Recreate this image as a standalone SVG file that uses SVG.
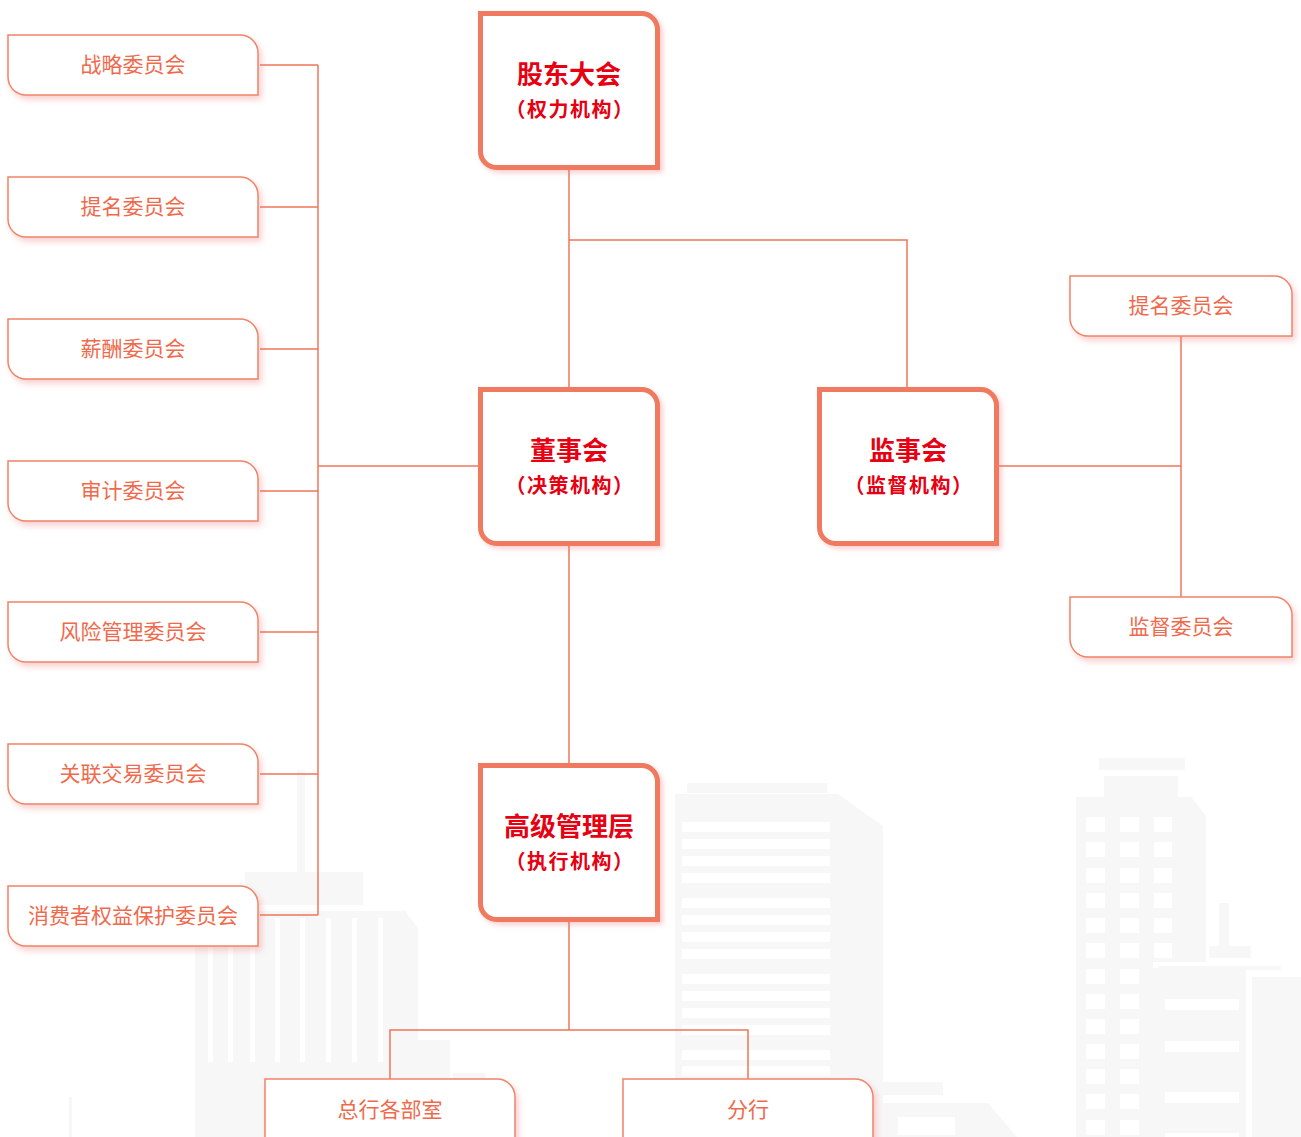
<svg xmlns="http://www.w3.org/2000/svg" width="1301" height="1137" viewBox="0 0 1301 1137">
  <style>
    .bg { fill: #f7f7f7; }
    .win { fill: #ffffff; }
    .sub { fill: #ffffff; stroke: #f08468; stroke-width: 1.5; filter: url(#softShadow); }
    .main { fill: #ffffff; stroke: #ef7a60; stroke-width: 5; filter: url(#mainShadow); }
    .lbl { font-family: "Noto Sans CJK SC", "Noto Sans", sans-serif; font-size: 21px; fill: #ef6a4c; text-anchor: middle; }
    .ttl { font-family: "Noto Sans CJK SC", "Noto Sans", sans-serif; font-size: 26px; font-weight: bold; fill: #e60012; text-anchor: middle; }
    .ttl2 { font-family: "Noto Sans CJK SC", "Noto Sans", sans-serif; font-size: 20px; font-weight: bold; fill: #e60012; text-anchor: middle; letter-spacing: 1.5px; }
    .link { fill: none; stroke: #f0765a; stroke-width: 1.5; }
  </style>
  <defs>
    <filter id="softShadow" x="-10%" y="-20%" width="130%" height="160%">
      <feDropShadow dx="3" dy="4" stdDeviation="3" flood-color="#f07a7a" flood-opacity="0.35"/>
    </filter>
    <filter id="mainShadow" x="-10%" y="-10%" width="130%" height="130%">
      <feDropShadow dx="3" dy="3" stdDeviation="2.5" flood-color="#f07a7a" flood-opacity="0.35"/>
    </filter>
  </defs>

  <rect width="1301" height="1137" fill="#ffffff"/>

  <!-- city skyline backdrop -->
  <g id="skyline">
    <!-- left tower -->
    <rect class="bg" x="297" y="770" width="8" height="102"/>
    <rect class="bg" x="245" y="872" width="118" height="33"/>
    <path class="bg" d="M195,911 H405 L418,928 V1137 H195 Z"/>
    <g class="win">
      <rect x="208" y="918" width="5" height="144"/>
      <rect x="228" y="918" width="5" height="144"/>
      <rect x="250" y="918" width="5" height="144"/>
      <rect x="275" y="918" width="5" height="144"/>
      <rect x="300" y="918" width="5" height="144"/>
      <rect x="326" y="918" width="5" height="144"/>
      <rect x="352" y="918" width="5" height="144"/>
      <rect x="378" y="918" width="5" height="144"/>
    </g>
    <rect class="bg" x="392" y="1040" width="58" height="97"/>
    <rect class="bg" x="453" y="1073" width="33" height="64"/>
    <rect class="bg" x="69" y="1097" width="3" height="40"/>
    <!-- middle tower -->
    <rect class="bg" x="687" y="783" width="140" height="10"/>
    <path class="bg" d="M675,794 H838 L883,826 V1137 H675 Z"/>
    <g class="win">
      <rect x="682" y="822" width="148" height="10"/>
      <rect x="682" y="839" width="148" height="10"/>
      <rect x="682" y="856" width="148" height="10"/>
      <rect x="682" y="873" width="148" height="10"/>
      <rect x="682" y="898" width="148" height="10"/>
      <rect x="682" y="915" width="148" height="10"/>
      <rect x="682" y="932" width="148" height="10"/>
      <rect x="682" y="949" width="148" height="10"/>
      <rect x="682" y="974" width="148" height="10"/>
      <rect x="682" y="991" width="148" height="10"/>
      <rect x="682" y="1008" width="148" height="10"/>
      <rect x="682" y="1025" width="148" height="10"/>
      <rect x="682" y="1050" width="148" height="10"/>
      <rect x="682" y="1066" width="148" height="10"/>
    </g>
    <rect class="bg" x="860" y="1082" width="83" height="13"/>
    <path class="bg" d="M860,1103 H988 L1017,1137 H860 Z"/>
    <rect class="win" x="898" y="1117" width="57" height="18"/>
    <!-- right towers -->
    <rect class="bg" x="1099" y="758" width="86" height="12"/>
    <rect class="bg" x="1104" y="776" width="74" height="21"/>
    <path class="bg" d="M1076,797 H1191 L1206,816 V1137 H1076 Z"/>
    <g class="win">
      <rect x="1086" y="817" width="19" height="15"/>
      <rect x="1120" y="817" width="19" height="15"/>
      <rect x="1154" y="817" width="18" height="15"/>
      <rect x="1086" y="842" width="19" height="15"/>
      <rect x="1120" y="842" width="19" height="15"/>
      <rect x="1154" y="842" width="18" height="15"/>
      <rect x="1086" y="868" width="19" height="15"/>
      <rect x="1120" y="868" width="19" height="15"/>
      <rect x="1154" y="868" width="18" height="15"/>
      <rect x="1086" y="893" width="19" height="15"/>
      <rect x="1120" y="893" width="19" height="15"/>
      <rect x="1154" y="893" width="18" height="15"/>
      <rect x="1086" y="918" width="19" height="15"/>
      <rect x="1120" y="918" width="19" height="15"/>
      <rect x="1154" y="918" width="18" height="15"/>
      <rect x="1086" y="943" width="19" height="15"/>
      <rect x="1120" y="943" width="19" height="15"/>
      <rect x="1154" y="943" width="18" height="15"/>
      <rect x="1086" y="969" width="19" height="15"/>
      <rect x="1120" y="969" width="19" height="15"/>
      <rect x="1086" y="994" width="19" height="15"/>
      <rect x="1120" y="994" width="19" height="15"/>
      <rect x="1086" y="1019" width="19" height="15"/>
      <rect x="1120" y="1019" width="19" height="15"/>
      <rect x="1086" y="1044" width="19" height="15"/>
      <rect x="1120" y="1044" width="19" height="15"/>
      <rect x="1086" y="1069" width="19" height="15"/>
      <rect x="1120" y="1069" width="19" height="15"/>
      <rect x="1086" y="1094" width="19" height="15"/>
      <rect x="1120" y="1094" width="19" height="15"/>
      <rect x="1086" y="1120" width="19" height="15"/>
      <rect x="1120" y="1120" width="19" height="15"/>
    </g>
    <rect class="bg" x="1219" y="903" width="10" height="43"/>
    <rect class="bg" x="1209" y="946" width="42" height="12"/>
    <rect class="win" x="1153" y="962" width="130" height="6"/>
    <rect class="bg" x="1158" y="966" width="123" height="4"/>
    <rect class="bg" x="1158" y="970" width="88" height="167"/>
    <g class="win">
      <rect x="1165" y="999" width="74" height="11"/>
      <rect x="1165" y="1041" width="74" height="11"/>
      <rect x="1165" y="1092" width="74" height="11"/>
      <rect x="1165" y="1133" width="74" height="4"/>
    </g>
    <rect class="bg" x="1252" y="977" width="49" height="160"/>
  </g>

  <!-- connectors -->
  <g id="connectors" class="link">
    <path d="M260,65 H318 M260,207 H318 M260,349 H318 M260,491 H318 M260,632 H318 M260,774 H318 M260,915 H318"/>
    <path d="M318,65 V915"/>
    <path d="M318,466 H478"/>
    <path d="M569,170 V387"/>
    <path d="M569,240 H907 V387"/>
    <path d="M569,546 V763"/>
    <path d="M569,922 V1030"/>
    <path d="M390,1079 V1030 H748 V1079"/>
    <path d="M999,466 H1181"/>
    <path d="M1181,336 V597"/>
  </g>

  <!-- board committees -->
  <g id="strategy-committee">
    <path class="sub" d="M8,35 H240 A18,18 0 0 1 258,53 V95 H26 A18,18 0 0 1 8,77 Z"/>
    <text class="lbl" x="133" y="72">战略委员会</text>
  </g>
  <g id="nomination-committee">
    <path class="sub" d="M8,177 H240 A18,18 0 0 1 258,195 V237 H26 A18,18 0 0 1 8,219 Z"/>
    <text class="lbl" x="133" y="214">提名委员会</text>
  </g>
  <g id="remuneration-committee">
    <path class="sub" d="M8,319 H240 A18,18 0 0 1 258,337 V379 H26 A18,18 0 0 1 8,361 Z"/>
    <text class="lbl" x="133" y="356">薪酬委员会</text>
  </g>
  <g id="audit-committee">
    <path class="sub" d="M8,461 H240 A18,18 0 0 1 258,479 V521 H26 A18,18 0 0 1 8,503 Z"/>
    <text class="lbl" x="133" y="498">审计委员会</text>
  </g>
  <g id="risk-committee">
    <path class="sub" d="M8,602 H240 A18,18 0 0 1 258,620 V662 H26 A18,18 0 0 1 8,644 Z"/>
    <text class="lbl" x="133" y="639">风险管理委员会</text>
  </g>
  <g id="related-transaction-committee">
    <path class="sub" d="M8,744 H240 A18,18 0 0 1 258,762 V804 H26 A18,18 0 0 1 8,786 Z"/>
    <text class="lbl" x="133" y="781">关联交易委员会</text>
  </g>
  <g id="consumer-protection-committee">
    <path class="sub" d="M8,886 H240 A18,18 0 0 1 258,904 V946 H26 A18,18 0 0 1 8,928 Z"/>
    <text class="lbl" x="133" y="923">消费者权益保护委员会</text>
  </g>

  <!-- governing bodies -->
  <g id="shareholders-meeting">
    <path class="main" d="M480.5,13.5 H641.5 A16,16 0 0 1 657.5,29.5 V167.5 H496.5 A16,16 0 0 1 480.5,151.5 Z"/>
    <text class="ttl" x="569" y="84">股东大会</text>
    <text class="ttl2" x="570" y="117">（权力机构）</text>
  </g>
  <g id="board-of-directors">
    <path class="main" d="M480.5,389.5 H641.5 A16,16 0 0 1 657.5,405.5 V543.5 H496.5 A16,16 0 0 1 480.5,527.5 Z"/>
    <text class="ttl" x="569" y="460">董事会</text>
    <text class="ttl2" x="570" y="493">（决策机构）</text>
  </g>
  <g id="board-of-supervisors">
    <path class="main" d="M819.5,389.5 H980.5 A16,16 0 0 1 996.5,405.5 V543.5 H835.5 A16,16 0 0 1 819.5,527.5 Z"/>
    <text class="ttl" x="908" y="460">监事会</text>
    <text class="ttl2" x="909" y="493">（监督机构）</text>
  </g>
  <g id="senior-management">
    <path class="main" d="M480.5,765.5 H641.5 A16,16 0 0 1 657.5,781.5 V919.5 H496.5 A16,16 0 0 1 480.5,903.5 Z"/>
    <text class="ttl" x="569" y="836">高级管理层</text>
    <text class="ttl2" x="570" y="869">（执行机构）</text>
  </g>

  <!-- supervisory committees -->
  <g id="supervisor-nomination-committee">
    <path class="sub" d="M1070,276 H1274 A18,18 0 0 1 1292,294 V336 H1088 A18,18 0 0 1 1070,318 Z"/>
    <text class="lbl" x="1181" y="313">提名委员会</text>
  </g>
  <g id="supervision-committee">
    <path class="sub" d="M1070,597 H1274 A18,18 0 0 1 1292,615 V657 H1088 A18,18 0 0 1 1070,639 Z"/>
    <text class="lbl" x="1181" y="634">监督委员会</text>
  </g>

  <!-- operating units -->
  <g id="head-office-departments">
    <path class="sub" d="M265,1079 H497 A18,18 0 0 1 515,1097 V1159 H283 A18,18 0 0 1 265,1141 Z"/>
    <text class="lbl" x="390" y="1117">总行各部室</text>
  </g>
  <g id="branches">
    <path class="sub" d="M623,1079 H855 A18,18 0 0 1 873,1097 V1159 H641 A18,18 0 0 1 623,1141 Z"/>
    <text class="lbl" x="748" y="1117">分行</text>
  </g>
</svg>
